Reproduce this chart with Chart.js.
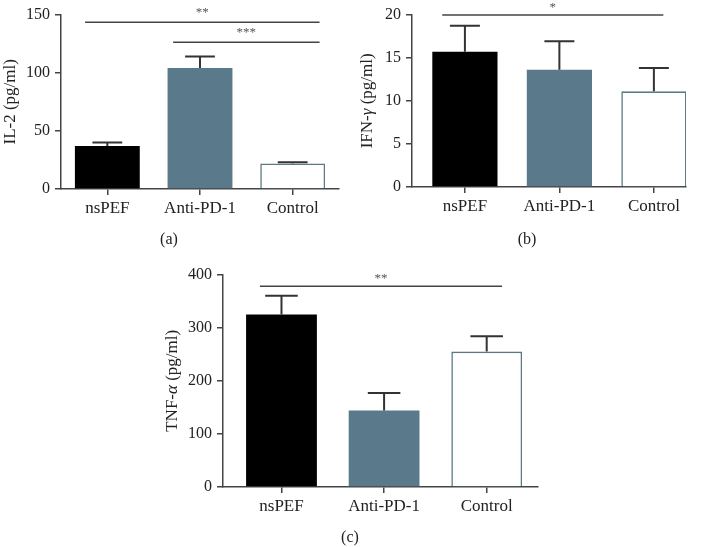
<!DOCTYPE html>
<html>
<head>
<meta charset="utf-8">
<script src="https://cdn.jsdelivr.net/npm/chart.js@4.4.1/dist/chart.umd.min.js"></script>
<style>
  body { margin: 0; background: #fff; }
  #wrap { position: relative; width: 702px; height: 547px; }
  canvas { position: absolute; }
</style>
</head>
<body>
<div id="wrap">
  <canvas id="il2" width="351" height="260" style="left:0;top:0"></canvas>
  <canvas id="ifn" width="351" height="260" style="left:351px;top:0"></canvas>
  <canvas id="tnf" width="380" height="287" style="left:160px;top:260px"></canvas>
</div>
<script>
const groups = ['nsPEF', 'Anti-PD-1', 'Control'];

const il2Mean = [37, 104, 22];
const il2Sem = [3, 10, 1];
const il2Ticks = [0, 50, 100, 150];
const il2Sig = [
  { from: 0, to: 2, label: '**' },
  { from: 1, to: 2, label: '***' },
];

const ifnMean = [15.7, 13.6, 11.1];
const ifnSem = [3.0, 3.3, 2.7];
const ifnTicks = [0, 5, 10, 15, 20];
const ifnSig = [{ from: 0, to: 2, label: '*' }];

const tnfMean = [325, 144, 255];
const tnfSem = [35, 33, 29];
const tnfTicks = [0, 100, 200, 300, 400];
const tnfSig = [{ from: 0, to: 2, label: '**' }];

const axisColor = '#444';
const textColor = '#222';
const serif = "'Liberation Serif', 'Times New Roman', serif";
Chart.defaults.font.family = serif;
Chart.defaults.color = textColor;

// whiskers (upper only), significance bars, y title with italic greek, panel letter
const extras = {
  id: 'extras',
  afterDatasetsDraw(chart, args, opts) {
    const { ctx, chartArea } = chart;
    const xs = chart.scales.x;
    const ys = chart.scales.y;
    const meta = chart.getDatasetMeta(0);
    ctx.save();
    ctx.strokeStyle = '#333';
    ctx.lineWidth = 2;
    opts.means.forEach((m, i) => {
      const x = xs.getPixelForValue(i);
      const y0 = ys.getPixelForValue(m);
      const y1 = ys.getPixelForValue(m + opts.sems[i]);
      const half = meta.data[i].width * 0.23;
      ctx.beginPath();
      ctx.moveTo(x, y0);
      ctx.lineTo(x, y1);
      ctx.moveTo(x - half, y1);
      ctx.lineTo(x + half, y1);
      ctx.stroke();
    });
    ctx.lineWidth = 1.5;
    ctx.strokeStyle = axisColor;
    ctx.fillStyle = '#555';
    ctx.font = '13px ' + serif;
    ctx.textAlign = 'center';
    ctx.textBaseline = 'middle';
    opts.sig.forEach((s, k) => {
      const xa = xs.getPixelForValue(s.from + opts.sigPad[k][0]);
      const xb = xs.getPixelForValue(s.to + opts.sigPad[k][1]);
      const y = ys.getPixelForValue(opts.sigLevel[k]);
      ctx.beginPath();
      ctx.moveTo(xa, y);
      ctx.lineTo(xb, y);
      ctx.stroke();
      ctx.fillText(s.label, (xa + xb) / 2, y - opts.starGap);
    });

    ctx.fillStyle = textColor;
    ctx.font = '16px ' + serif;
    ctx.fillText(opts.panel, opts.panelX, opts.panelY);

    // rotated y title, greek letter in italics
    const parts = opts.title;
    const fontOf = (p) => (p.italic ? 'italic ' : '') + '17px ' + serif;
    let total = 0;
    parts.forEach((p) => {
      ctx.font = fontOf(p);
      total += ctx.measureText(p.t).width;
    });
    ctx.translate(opts.titleX, (chartArea.top + chartArea.bottom) / 2);
    ctx.rotate(-Math.PI / 2);
    ctx.textAlign = 'left';
    let cx = -total / 2;
    parts.forEach((p) => {
      ctx.font = fontOf(p);
      ctx.fillText(p.t, cx, 0);
      cx += ctx.measureText(p.t).width;
    });
    ctx.restore();
  },
};

const makeChart = (id, cfg) => {
  const canvas = document.getElementById(id);
  const W = canvas.width;
  const H = canvas.height;
  const yt = cfg.yTicks;
  return new Chart(canvas.getContext('2d'), {
    type: 'bar',
    data: {
      datasets: [
        {
          data: cfg.means.map((v, i) => ({ x: i, y: v })),
          backgroundColor: ['#000000', '#5a7a8c', '#ffffff'],
          borderColor: ['#000000', '#5a7a8c', '#5c7a84'],
          borderWidth: [0, 0, 1.6],
          categoryPercentage: 1,
          barPercentage: cfg.barPct,
        },
      ],
    },
    options: {
      responsive: false,
      animation: false,
      events: [],
      layout: {
        padding: { left: 0, top: cfg.area.top, right: W - cfg.area.right, bottom: 0 },
      },
      plugins: {
        legend: { display: false },
        tooltip: { enabled: false },
        extras: {
          means: cfg.means,
          sems: cfg.sems,
          sig: cfg.sig,
          sigLevel: cfg.sigLevel,
          sigPad: cfg.sigPad,
          starGap: cfg.starGap,
          panel: cfg.panel,
          panelX: cfg.panelX,
          panelY: cfg.panelY,
          title: cfg.yTitle,
          titleX: cfg.titleX,
        },
      },
      scales: {
        x: {
          type: 'linear',
          min: cfg.xMin,
          max: cfg.xMax,
          offset: false,
          afterBuildTicks: (s) => {
            s.ticks = groups.map((g, i) => ({ value: i }));
          },
          afterFit: (s) => {
            s.height = H - cfg.area.bottom;
          },
          ticks: {
            callback: (v) => groups[v],
            font: { size: 17 },
            color: textColor,
            padding: 3,
            maxRotation: 0,
            autoSkip: false,
          },
          grid: {
            offset: false,
            drawOnChartArea: false,
            tickLength: 6,
            color: axisColor,
            lineWidth: 1.5,
          },
          border: { color: axisColor, width: 1.5 },
        },
        y: {
          min: yt[0],
          max: yt[yt.length - 1],
          afterFit: (s) => {
            s.width = cfg.area.left;
          },
          ticks: {
            stepSize: yt[1] - yt[0],
            font: { size: 16 },
            color: textColor,
            padding: 5,
          },
          grid: {
            drawOnChartArea: false,
            tickLength: 6,
            color: axisColor,
            lineWidth: 1.5,
          },
          border: { color: axisColor, width: 1.5 },
        },
      },
    },
    plugins: [extras],
  });
};

makeChart('il2', {
  means: il2Mean,
  sems: il2Sem,
  yTicks: il2Ticks,
  yTitle: [{ t: 'IL-2 (pg/ml)' }],
  titleX: 11,
  sig: il2Sig,
  sigLevel: [143.5, 126.2],
  sigPad: [[-0.24, 0.29], [-0.29, 0.29]],
  starGap: 10,
  area: { left: 61, top: 11, right: 339, bottom: 189 },
  xMin: -0.5,
  xMax: 2.5,
  barPct: 0.7,
  panel: '(a)',
  panelX: 169,
  panelY: 240,
});

makeChart('ifn', {
  means: ifnMean,
  sems: ifnSem,
  yTicks: ifnTicks,
  yTitle: [{ t: 'IFN-' }, { t: 'γ', italic: true }, { t: ' (pg/ml)' }],
  titleX: 17,
  sig: ifnSig,
  sigLevel: [19.96],
  sigPad: [[-0.24, 0.1]],
  starGap: 7,
  area: { left: 61, top: 9, right: 335, bottom: 187 },
  xMin: -0.56,
  xMax: 2.34,
  barPct: 0.69,
  panel: '(b)',
  panelX: 176,
  panelY: 240,
});

makeChart('tnf', {
  means: tnfMean,
  sems: tnfSem,
  yTicks: tnfTicks,
  yTitle: [{ t: 'TNF-' }, { t: 'α', italic: true }, { t: ' (pg/ml)' }],
  titleX: 13,
  sig: tnfSig,
  sigLevel: [378],
  sigPad: [[-0.21, 0.15]],
  starGap: 8,
  area: { left: 63, top: 11, right: 378, bottom: 227 },
  xMin: -0.57,
  xMax: 2.5,
  barPct: 0.69,
  panel: '(c)',
  panelX: 190,
  panelY: 278,
});
</script>
</body>
</html>
